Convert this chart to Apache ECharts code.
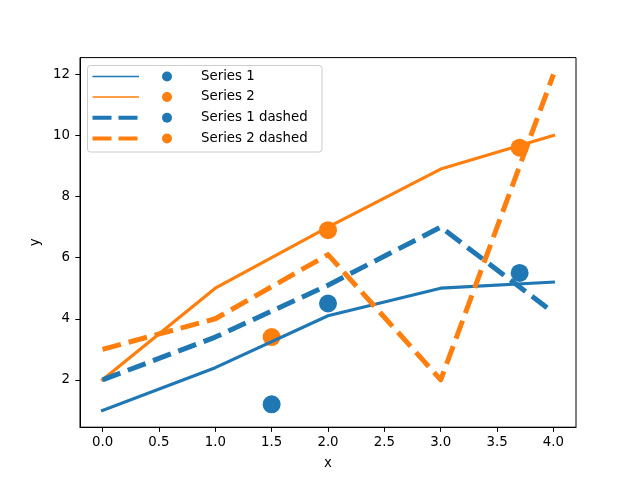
<!DOCTYPE html>
<html>
<head>
<meta charset="utf-8">
<style>html,body{margin:0;padding:0;background:#fff;}#chart{width:640px;height:480px;}</style>
<script src="https://cdn.jsdelivr.net/npm/echarts@6/dist/echarts.min.js"></script>
</head>
<body>
<div id="chart"></div>
<script>
const xValues = [0, 1, 2, 3, 4];
const series1 = [1.0, 2.4, 4.1, 5.0, 5.2];
const series2 = [2.0, 5.0, 7.0, 8.9, 10.0];
const series1Dashed = [2.0, 3.4, 5.1, 7.0, 4.2];
const series2Dashed = [3.0, 4.0, 6.1, 2.0, 12.0];
const scatterX = [1.5, 2.0, 3.7];
const scatter1Y = [1.2, 4.5, 5.5];
const scatter2Y = [3.4, 6.9, 9.6];
const xTicks = [0, 0.5, 1.0, 1.5, 2.0, 2.5, 3.0, 3.5, 4.0];
const yTicks = [2, 4, 6, 8, 10, 12];
const legendNames = ['Series 1', 'Series 2', 'Series 1 dashed', 'Series 2 dashed'];

const BLUE = '#1f77b4', ORANGE = '#ff7f0e';
const FONT = 'DejaVu Sans';
const FS = 13.33;

function pairs(xs, ys) { return xs.map((x, i) => [x, ys[i]]); }

const chart = echarts.init(document.getElementById('chart'), null, {renderer: 'canvas'});

function lineSeries(name, ys, color, dashed) {
  return {
    name: name, type: 'line', data: pairs(xValues, ys), symbol: 'none', z: 3,
    lineStyle: dashed ? {color: color, width: 5, type: [19, 8], cap: 'butt', join: 'round'}
                      : {color: color, width: 3.2, type: 'solid', cap: 'square', join: 'round'},
    animation: false
  };
}
function scatterSeries(name, ys, color) {
  return {name: name, type: 'scatter', data: pairs(scatterX, ys), symbol: 'circle', symbolSize: 18,
    itemStyle: {color: color, opacity: 1}, z: 2, animation: false};
}

const legendColors = [BLUE, ORANGE, BLUE, ORANGE];
const legendDashed = [false, false, true, true];
const rowY = [76.5, 97, 117.8, 138.5];
const legendGraphics = [{
  type: 'rect', shape: {x: 87.5, y: 65.5, width: 234.5, height: 86.5, r: 3},
  style: {fill: 'rgba(255,255,255,0.8)', stroke: '#cccccc', lineWidth: 1}, z: 100
}];
legendNames.forEach((nm, i) => {
  legendGraphics.push({
    type: 'line', shape: {x1: 92.5, y1: rowY[i], x2: 139, y2: rowY[i]},
    style: {stroke: legendColors[i], lineWidth: legendDashed[i] ? 4 : 1.6,
      lineDash: legendDashed[i] ? [19, 7] : null, lineCap: 'butt'}, z: 101
  });
  legendGraphics.push({
    type: 'circle', shape: {cx: 167, cy: rowY[i], r: 5}, style: {fill: legendColors[i]}, z: 101
  });
  legendGraphics.push({
    type: 'text', x: 201, y: rowY[i],
    style: {text: nm, fill: '#000', font: FS + 'px "' + FONT + '"', textVerticalAlign: 'middle', textAlign: 'left'}, z: 101
  });
});

const option = {
  animation: false,
  backgroundColor: '#fff',
  textStyle: {fontFamily: FONT},
  grid: {left: 80, right: 64, top: 57.6, bottom: 52.8, show: true, borderColor: '#000', borderWidth: 1,
    backgroundColor: 'transparent', containLabel: false, outerBoundsMode: 'none'},
  xAxis: {
    type: 'value', min: -0.2, max: 4.2,
    name: 'x', nameLocation: 'middle', nameGap: 30,
    nameTextStyle: {color: '#000', fontSize: FS, fontFamily: FONT},
    axisLine: {show: true, onZero: false, lineStyle: {color: '#000', width: 1}},
    axisTick: {show: true, length: 4.7, inside: false, lineStyle: {color: '#000', width: 1}, customValues: xTicks},
    axisLabel: {show: true, margin: 9.3, color: '#000', fontSize: FS, fontFamily: FONT, customValues: xTicks,
      formatter: v => Number(v).toFixed(1)},
    splitLine: {show: false}
  },
  yAxis: {
    type: 'value', min: 0.45, max: 12.55,
    name: 'y', nameLocation: 'middle', nameGap: 31, nameRotate: 90,
    nameTextStyle: {color: '#000', fontSize: FS, fontFamily: FONT},
    axisLine: {show: true, onZero: false, lineStyle: {color: '#000', width: 1}},
    axisTick: {show: true, length: 4.7, inside: false, lineStyle: {color: '#000', width: 1}, customValues: yTicks},
    axisLabel: {show: true, margin: 10, color: '#000', fontSize: FS, fontFamily: FONT, customValues: yTicks,
      formatter: v => String(Math.round(v))},
    splitLine: {show: false}
  },
  series: [
    scatterSeries('Series 1 points', scatter1Y, BLUE),
    scatterSeries('Series 2 points', scatter2Y, ORANGE),
    lineSeries(legendNames[0], series1, BLUE, false),
    lineSeries(legendNames[1], series2, ORANGE, false),
    lineSeries(legendNames[2], series1Dashed, BLUE, true),
    lineSeries(legendNames[3], series2Dashed, ORANGE, true)
  ],
  graphic: legendGraphics
};
chart.setOption(option);
</script>
</body>
</html>
